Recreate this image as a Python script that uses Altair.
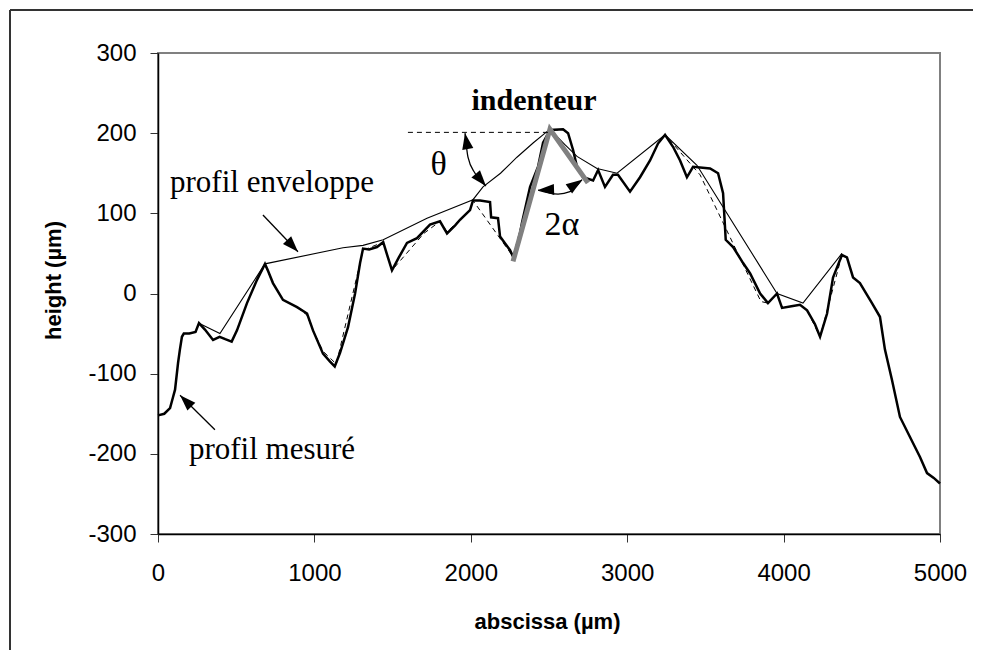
import altair as alt
import pandas as pd

# ---------------- data (µm) ----------------
prof_x = [0, 40, 77, 95, 109, 128, 140, 153, 165, 200, 240, 262, 300, 352, 394, 430, 471, 505, 569, 633,
          684, 700, 735, 799, 889, 953, 991, 1055, 1100, 1130, 1164, 1215, 1260, 1292, 1311, 1350, 1400,
          1440, 1470, 1496, 1540, 1592, 1656, 1739, 1803, 1848, 1900, 1931, 1995, 2014, 2060, 2123, 2130,
          2174, 2187, 2251, 2270, 2300, 2327, 2379, 2430, 2462, 2507, 2590, 2622, 2654, 2679, 2718, 2782,
          2814, 2858, 2909, 2941, 3018, 3082, 3146, 3197, 3242, 3293, 3338, 3382, 3421, 3530, 3581, 3613,
          3630, 3677, 3741, 3786, 3850, 3900, 3958, 3990, 4050, 4105, 4150, 4200, 4233, 4278, 4316, 4373,
          4405, 4444, 4488, 4565, 4616, 4648, 4693, 4744, 4808, 4872, 4917, 4960, 5000]
prof_y = [-152, -150, -143, -130, -120, -87, -70, -54, -50, -50, -48, -37, -45, -58, -54, -57, -60, -46, -12, 17,
          37, 30, 13, -8, -17, -25, -46, -75, -85, -91, -74, -42, 0, 38, 56, 55, 58,
          64, 45, 29, 45, 63, 69, 86, 90, 75, 85, 92, 104, 116, 116, 114, 95,
          94, 71, 54, 46, 60, 88, 133, 158, 188, 204, 205, 200, 179, 158, 145, 141,
          154, 133, 148, 148, 127, 145, 166, 187, 198, 183, 166, 145, 158, 156, 150, 125,
          67, 58, 38, 25, 0, -12, 0, -18, -16, -14, -21, -38, -54, -25, 20, 48,
          45, 20, 13, -12, -29, -70, -108, -154, -179, -204, -224, -230, -237]

dash_x = [262, 300, 352, 394, 471, 505, 569, 633, 684, 735, 799, 889, 953, 991, 1055, 1140, 1311, 1440,
          1496, 1700, 1803, 1848, 1931, 1995, 2014, 2270, 2327, 2379, 2430, 2462, 2507, 2590, 2622, 2654,
          2679, 2718, 2782, 2814, 2858, 2909, 2941, 3018, 3082, 3146, 3197, 3242, 3466, 3855, 3900, 3958,
          3990, 4105, 4150, 4233, 4373]
dash_y = [-37, -45, -58, -54, -60, -46, -12, 17, 35, 13, -8, -17, -27, -46, -72, -88, 54, 64,
          29, 75, 90, 77, 92, 104, 116, 46, 88, 133, 158, 188, 204, 204, 200, 179,
          158, 145, 141, 154, 133, 148, 148, 127, 145, 166, 187, 198, 148, -10, -12, 0,
          -18, -14, -21, -54, 48]

env_x = [262, 396, 684, 1183, 1311, 1440, 1720, 2014, 2078, 2190, 2295, 2400, 2506, 2600, 2679, 2807,
         2935, 3242, 3446, 3958, 4124, 4373]
env_y = [-37, -50, 37, 57, 60, 67, 94, 117, 133, 150, 170, 188, 205, 186, 171, 156,
         150, 198, 160, 0, -12, 50]

ind_x = [2270, 2506, 2749]
ind_y = [40, 205, 138]

href_x = [1598, 2500]
href_y = [201, 201]

# arrows: shaft points (group, order)
arr_g = ["env", "env", "mes", "mes", "theta", "theta", "theta", "theta", "alpha", "alpha", "alpha", "alpha"]
arr_x = [671, 895, 364, 141, 1963, 1982, 2027, 2097, 2430, 2558, 2634, 2711]
arr_y = [98, 52, -170, -127, 200, 170, 150, 134, 129, 124, 127, 142]

# arrow heads: tip position and direction (degrees, clockwise from up)
head_x = [895, 141, 1963, 2097, 2430, 2711]
head_y = [52, -127, 200, 134, 129, 142]
head_a = [137, 315, 350, 140, 268, 55]

lab_text = ["profil enveloppe", "profil mesuré"]
lab_x = [77, 198]
lab_y = [127, -206]

sym_text = ["θ", "2α"]
sym_x = [1794, 2583]
sym_y = [148, 73]

title_text = ["indenteur"]
title_x = [2404]
title_y = [229]

x_ticks = [0, 1000, 2000, 3000, 4000, 5000]
y_ticks = [-300, -200, -100, 0, 100, 200, 300]

# ---------------- chart ----------------
SANS = "Liberation Sans"
SERIF = "Liberation Serif"

x_enc = alt.X("x:Q", scale=alt.Scale(domain=[0, 5000], nice=False, zero=False),
              axis=alt.Axis(values=x_ticks, title="abscissa (µm)", grid=False, labelFlush=False,
                            labelExpr="'' + datum.value",
                            labelFont=SANS, labelFontSize=24, labelColor="black", labelPadding=19,
                            tickSize=8, tickColor="#333", domainColor="black", domainWidth=1.5,
                            titleFont=SANS, titleFontSize=22, titleFontWeight="bold", titleColor="black",
                            titleX=389, titleY=94, titleBaseline="alphabetic"))
y_enc = alt.Y("y:Q", scale=alt.Scale(domain=[-300, 300], nice=False, zero=False),
              axis=alt.Axis(values=y_ticks, title="height (µm)", grid=False, labelFlush=False,
                            labelExpr="'' + datum.value",
                            labelFont=SANS, labelFontSize=24, labelColor="black", labelPadding=14,
                            tickSize=8, tickColor="#333", domainColor="black", domainWidth=1.5,
                            titleFont=SANS, titleFontSize=22, titleFontWeight="bold", titleColor="black",
                            titleX=-98, titleY=227, titleAngle=270, titleBaseline="alphabetic",
                            titleAlign="center"))

def df(xs, ys):
    d = pd.DataFrame({"x": xs, "y": ys})
    d["i"] = range(len(d))
    return d

dashed = alt.Chart(df(dash_x, dash_y)).mark_line(color="black", strokeWidth=1, strokeDash=[5, 4]).encode(
    x=x_enc, y=y_enc, order="i:Q")
envelope = alt.Chart(df(env_x, env_y)).mark_line(color="black", strokeWidth=1.1).encode(
    x=x_enc, y=y_enc, order="i:Q")
profile = alt.Chart(df(prof_x, prof_y)).mark_line(color="black", strokeWidth=2.5).encode(
    x=x_enc, y=y_enc, order="i:Q")
indenter = alt.Chart(df(ind_x, ind_y)).mark_line(color="#808080", strokeWidth=5).encode(
    x=x_enc, y=y_enc, order="i:Q")
href = alt.Chart(df(href_x, href_y)).mark_line(color="black", strokeWidth=1, strokeDash=[5, 4]).encode(
    x=x_enc, y=y_enc, order="i:Q")

arr_df = pd.DataFrame({"g": arr_g, "x": arr_x, "y": arr_y})
arr_df["i"] = range(len(arr_df))
arrows = alt.Chart(arr_df).mark_line(color="black", strokeWidth=1.3, interpolate="monotone").encode(
    x=x_enc, y=y_enc, detail="g:N", order="i:Q")

heads = alt.Chart(pd.DataFrame({"x": head_x, "y": head_y, "a": head_a})).mark_point(
    shape="M0,0 L-0.7,2 L0.7,2 Z", filled=True, color="black", opacity=1, size=256, strokeWidth=0
).encode(x=x_enc, y=y_enc, angle=alt.Angle("a:Q", scale=None))

labels = alt.Chart(pd.DataFrame({"x": lab_x, "y": lab_y, "t": lab_text})).mark_text(
    font=SERIF, fontSize=31, align="left", baseline="alphabetic", color="black").encode(
    x=x_enc, y=y_enc, text="t:N")
syms = alt.Chart(pd.DataFrame({"x": sym_x, "y": sym_y, "t": sym_text})).mark_text(
    font=SERIF, fontSize=34, align="center", baseline="alphabetic", color="black").encode(
    x=x_enc, y=y_enc, text="t:N")
ind_label = alt.Chart(pd.DataFrame({"x": title_x, "y": title_y, "t": title_text})).mark_text(
    font=SERIF, fontSize=30, fontWeight="bold", align="center", baseline="alphabetic", color="black").encode(
    x=x_enc, y=y_enc, text="t:N")

frame_top = alt.Chart(pd.DataFrame({"k": [0]})).mark_rule(color="#333", strokeWidth=2).encode(
    x=alt.value(-148), x2=alt.value(815), y=alt.value(-43))
frame_left = alt.Chart(pd.DataFrame({"k": [0]})).mark_rule(color="#333", strokeWidth=2).encode(
    x=alt.value(-148), y=alt.value(-43), y2=alt.value(597))

chart = alt.layer(
    frame_top, frame_left, dashed, envelope, profile, indenter, href, arrows, heads,
    labels, syms, ind_label
).properties(
    width=782, height=481,
    autosize=alt.AutoSizeParams(type="none"),
    padding={"left": 150, "top": 45, "right": 33, "bottom": 116},
    background="white",
).configure_view(stroke="#808080", strokeWidth=2)

chart.save("out.html", embed_options={"renderer": "svg", "actions": False})
